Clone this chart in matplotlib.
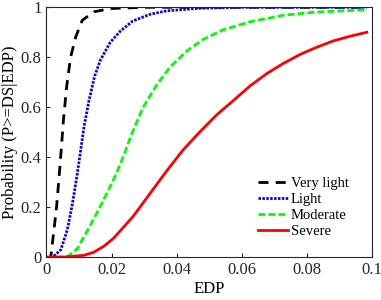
import matplotlib
matplotlib.use("Agg")
import matplotlib.pyplot as plt

plt.rcParams['font.family'] = ['Liberation Serif', 'DejaVu Serif']

# values
vl_x = [0, 0.0013, 0.0023, 0.0031, 0.0038, 0.0046, 0.0052, 0.0062, 0.0074, 0.009, 0.011, 0.0146, 0.0197, 0.03, 0.05, 0.0984]
vl_y = [0, 0.0, 0.109, 0.202, 0.31, 0.442, 0.548, 0.682, 0.80, 0.882, 0.948, 0.982, 0.995, 1.0, 1.0, 1.0]

li_x = [0, 0.0018, 0.0044, 0.0064, 0.0079, 0.0093, 0.0103, 0.0115, 0.0131, 0.0148, 0.0166,
        0.0196, 0.0227, 0.0265, 0.0318, 0.037, 0.047, 0.06, 0.0984]
li_y = [0, 0.0, 0.03, 0.11, 0.21, 0.32, 0.41, 0.52, 0.63, 0.725, 0.79,
        0.86, 0.905, 0.945, 0.972, 0.986, 0.996, 1.0, 1.0]

mo_x = [0, 0.0064, 0.0095, 0.0125, 0.0156, 0.0187, 0.0213, 0.0238, 0.0264, 0.0297, 0.0339,
        0.0379, 0.0431, 0.0482, 0.0543, 0.0625, 0.0727, 0.083, 0.0984]
mo_y = [0, 0.002, 0.035, 0.105, 0.18, 0.26, 0.33, 0.41, 0.5, 0.6, 0.69,
        0.76, 0.825, 0.872, 0.91, 0.942, 0.968, 0.981, 0.99]

se_x = [0, 0.0054, 0.0115, 0.0145, 0.0177, 0.0205, 0.0235, 0.0267, 0.0318, 0.0369, 0.042, 0.047,
        0.0523, 0.0575, 0.0625, 0.0677, 0.0727, 0.078, 0.083, 0.088, 0.0935, 0.0984]
se_y = [0, 0.001, 0.008, 0.02, 0.045, 0.075, 0.118, 0.165, 0.255, 0.345, 0.43, 0.5,
        0.57, 0.628, 0.685, 0.735, 0.775, 0.812, 0.84, 0.865, 0.885, 0.9]

x_ticks = [0, 0.02, 0.04, 0.06, 0.08, 0.1]
x_labels = ['0', '0.02', '0.04', '0.06', '0.08', '0.1']
y_ticks = [0, 0.2, 0.4, 0.6, 0.8, 1]
y_labels = ['0', '0.2', '0.4', '0.6', '0.8', '1']

fig = plt.figure(figsize=(3.81, 3.0), dpi=100)
ax = fig.add_axes([0.1220, 0.1423, 0.8543, 0.8334])

ax.plot(vl_x, vl_y, color='black', lw=2, dashes=(3.6, 2.6), label='Very light')
ax.plot(li_x, li_y, color='blue', lw=2, dashes=(0.9, 0.5), label='Light')
ax.plot(mo_x, mo_y, color='#00ff00', lw=2, dashes=(2.5, 1.1), label='Moderate')
ax.plot(se_x, se_y, color='red', lw=2, label='Severe')

ax.set_xlim(0, 0.1)
ax.set_ylim(0, 1)
ax.set_xticks(x_ticks)
ax.set_xticklabels(x_labels)
ax.set_yticks(y_ticks)
ax.set_yticklabels(y_labels)
ax.tick_params(direction='in', length=3, labelsize=12, colors='#262626', top=False, right=False)
for s in ax.spines.values():
    s.set_color('#262626')
    s.set_linewidth(0.8)

ax.set_xlabel('EDP', fontsize=12, labelpad=2)
ax.set_ylabel('Probability (P>=DS|EDP)', fontsize=12, labelpad=2)

ax.legend(loc='upper left', bbox_to_anchor=(0.641, 0.335), borderaxespad=0, frameon=False,
          fontsize=10.5, handlelength=2.06, handletextpad=0.2, labelspacing=0.2, borderpad=0.2)

fig.savefig('out.png', dpi=100)
